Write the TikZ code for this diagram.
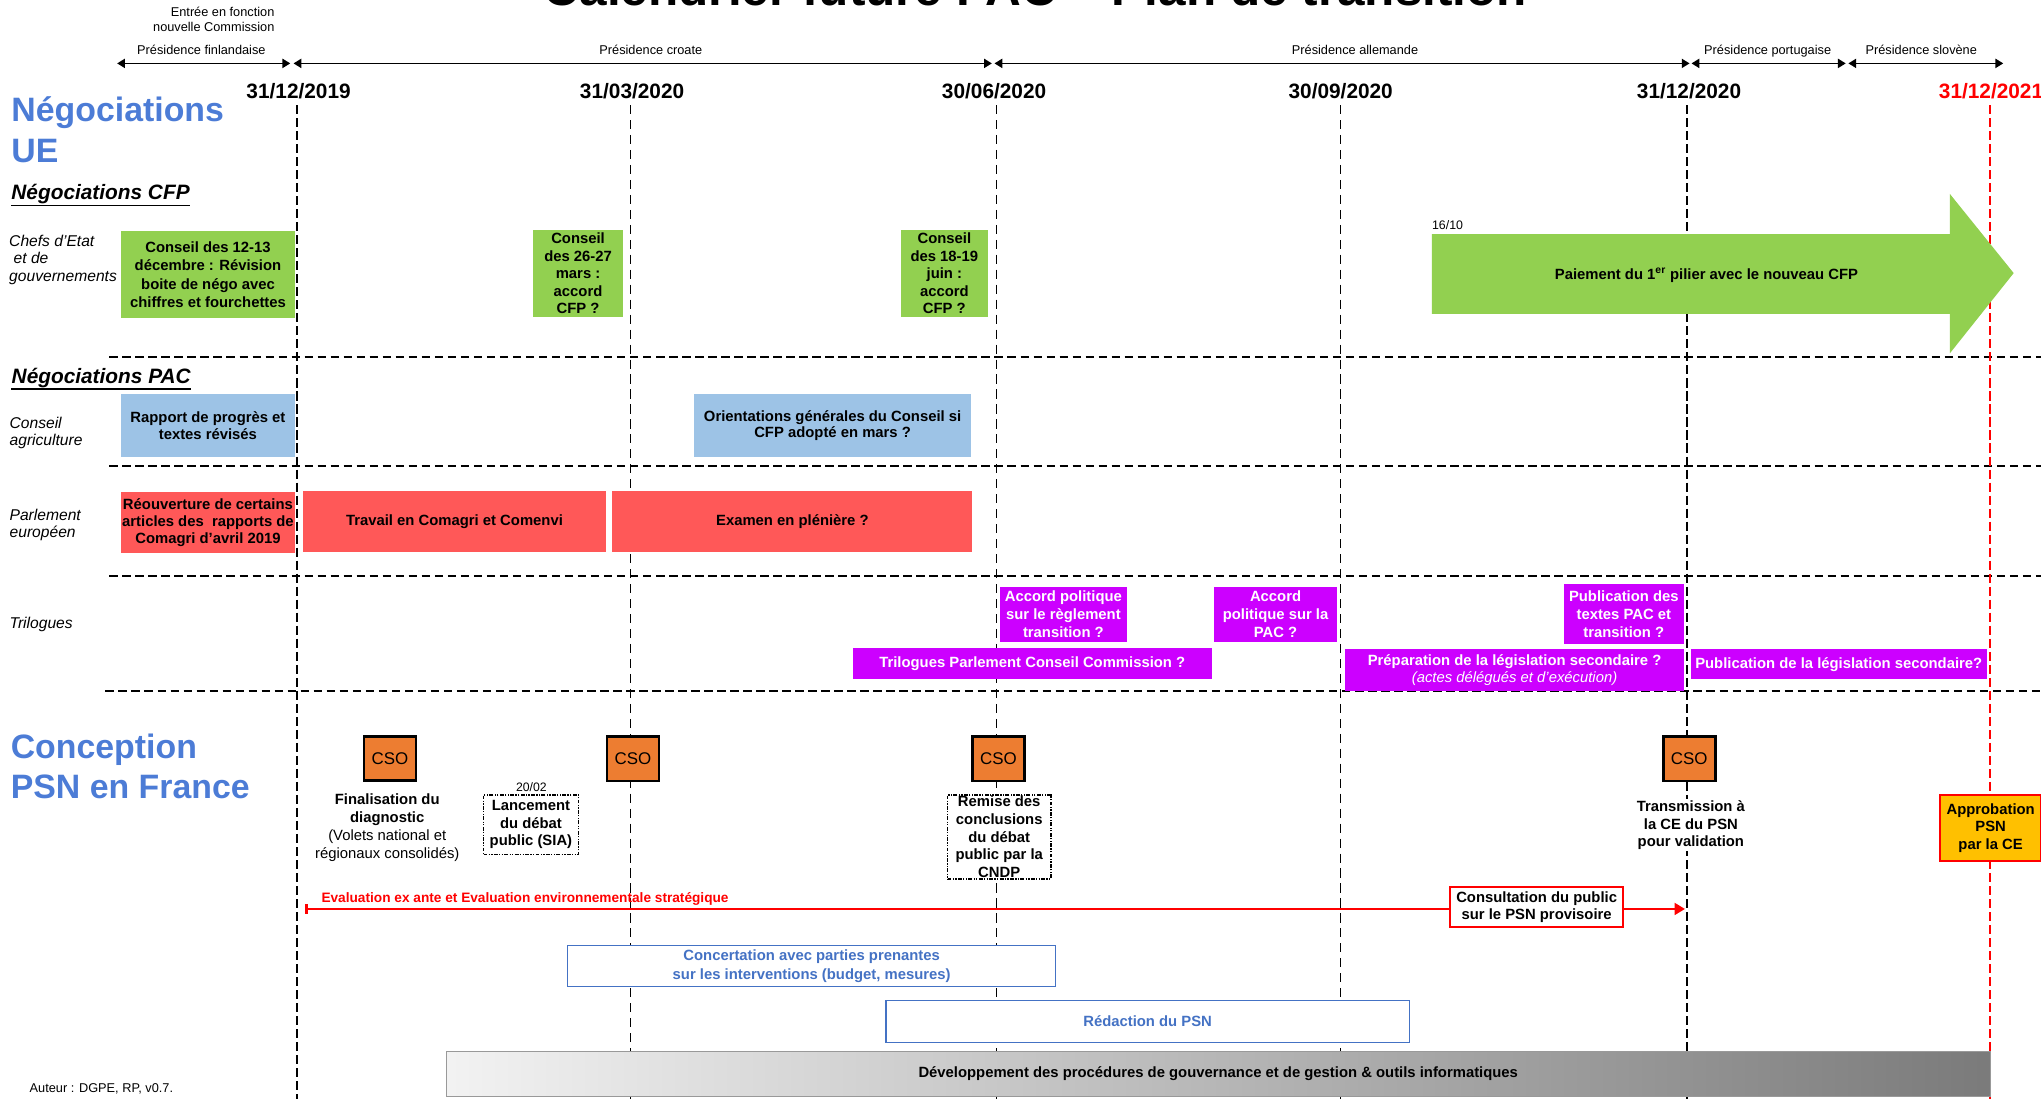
\documentclass[tikz,border=0pt]{standalone}
\usepackage{fontspec}
\setmainfont{Liberation Sans}
\usepackage{xcolor}
\usepackage{tikz}
\usetikzlibrary{arrows.meta}

\definecolor{bleutitre}{RGB}{76,124,214}
\definecolor{bleuligne}{RGB}{68,114,196}
\definecolor{vertcfp}{RGB}{146,208,80}
\definecolor{bleupac}{RGB}{157,195,230}
\definecolor{rougepe}{RGB}{255,88,88}
\definecolor{magtri}{RGB}{204,0,255}
\definecolor{orangecso}{RGB}{237,125,49}
\definecolor{jauneapp}{RGB}{255,192,0}

\newcommand{\taille}[2]{\fontsize{#1}{#2}\selectfont}

\begin{document}
\begin{tikzpicture}[x=1pt,y=-1pt,
		txt/.style={inner sep=0pt, anchor=base},
		presid/.style={line width=1.3pt, {Triangle[length=6pt,width=7pt]}-{Triangle[length=6pt,width=7pt]}},
		pres/.style={txt, font=\taille{9.8}{12}},
		date/.style={txt, font=\bfseries\taille{16}{19}},
		datefort/.style={line width=1.6pt, dash pattern=on 7pt off 3pt},
		datefin/.style={line width=0.8pt, dash pattern=on 7pt off 4.5pt},
		sep/.style={line width=1.6pt, dash pattern=on 6.5pt off 3.5pt},
		titrebleu/.style={txt, anchor=base west, text=bleutitre, font=\bfseries\taille{26}{31}},
		rubrique/.style={txt, anchor=base west, font=\bfseries\itshape\taille{16}{19}},
		etiq/.style={txt, anchor=base west, font=\itshape\taille{12}{14}},
		boite/.style={inner sep=0pt, align=center, font=\bfseries\taille{11.4}{14}},
		vert/.style={boite, fill=vertcfp},
		bleu/.style={boite, fill=bleupac, font=\bfseries\taille{11.4}{12.8}},
		rouge/.style={boite, fill=rougepe, font=\bfseries\taille{11.4}{13.2}},
		magenta/.style={boite, fill=magtri, text=white},
		cso/.style={draw, line width=2pt, fill=orangecso, minimum width=40pt, minimum height=34pt, inner sep=0pt, font=\taille{13}{15}},
		debat/.style={boite, draw, fill=white, line width=1.3pt, dash pattern=on 3pt off 1pt on 1pt off 1pt on 1pt off 1pt, font=\bfseries\taille{11.4}{13.4}},
		cadrebleu/.style={boite, draw=bleuligne, line width=1pt, fill=white, text=bleuligne},
	]
	\useasboundingbox (0,0) rectangle (1568,844);
	\clip (0,0) rectangle (1568,844);

	% lignes de separation
	\foreach \y/\xd in {274.5/84, 358/84, 442.2/84, 530.8/81}
		\draw[sep] (\xd,\y) -- (1568,\y);

	% lignes des dates
	\draw[datefort] (228,80.7) -- (228,844);
	\draw[datefin] (484.5,80.7) -- (484.5,844);
	\draw[datefin] (765.5,80.7) -- (765.5,844);
	\draw[datefin] (1030,80.7) -- (1030,844);
	\draw[datefort] (1296.3,80.7) -- (1296.3,844);
	\draw[datefort, red, line width=1.3pt] (1528.6,80.7) -- (1528.6,844);

	\node[txt, font=\bfseries\taille{38}{44}] (titre) at (795.5,4) {Calendrier future PAC – Plan de transition};

	% presidences
	\node[pres, anchor=base east] (entree1) at (211,12.3) {Entrée en fonction};
	\node[pres, anchor=base east] (entree2) at (211,24.3) {nouvelle Commission};
	\coordinate (fin0) at (90,48.7);
	\coordinate (fin1) at (223,48.7);
	\coordinate (cro0) at (225.5,48.7);
	\coordinate (cro1) at (762,48.7);
	\coordinate (all0) at (764,48.7);
	\coordinate (all1) at (1298,48.7);
	\coordinate (por0) at (1299.5,48.7);
	\coordinate (por1) at (1418,48.7);
	\coordinate (slo0) at (1420,48.7);
	\coordinate (slo1) at (1539,48.7);
	\draw[presid] (fin0) -- (fin1);
	\draw[presid] (cro0) -- (cro1);
	\draw[presid] (all0) -- (all1);
	\draw[presid] (por0) -- (por1);
	\draw[presid] (slo0) -- (slo1);
	\node[pres] (pfin) at (154.7,41.5) {Présidence finlandaise};
	\node[pres] (pcro) at (500,41.5) {Présidence croate};
	\node[pres] (pall) at (1041,41.5) {Présidence allemande};
	\node[pres] (ppor) at (1358,41.5) {Présidence portugaise};
	\node[pres] (pslo) at (1476,41.5) {Présidence slovène};

	% dates
	\node[date] (d2019) at (229.4,75.5) {31/12/2019};
	\node[date] (d2003) at (485.6,75.5) {31/03/2020};
	\node[date] (d2006) at (763.7,75.5) {30/06/2020};
	\node[date] (d2009) at (1030,75.5) {30/09/2020};
	\node[date] (d2012) at (1297.6,75.5) {31/12/2020};
	\node[date, text=red] (d2021) at (1529.6,75.5) {31/12/2021};

	% negociations UE
	\node[titrebleu] (negue1) at (8.6,93.5) {Négociations};
	\node[titrebleu] (negue2) at (8.6,124.7) {UE};
	\node[rubrique] (negcfp) at (8.6,153.6) {Négociations CFP};
	\draw[line width=1.1pt] ([yshift=-4.4pt]negcfp.base west) -- ([yshift=-4.4pt]negcfp.base east);
	\node[etiq] (chefs1) at (6.9,189.5) {Chefs d'Etat};
	\node[etiq] (chefs2) at (10.3,202.3) {et de};
	\node[etiq] (chefs3) at (6.9,216.4) {gouvernements};

	\node[vert, minimum width=133pt, minimum height=66.6pt] (cfpdec) at (159.8,211) {Conseil des 12-13\\décembre : Révision\\boite de négo avec\\chiffres et fourchettes};
	\node[vert, minimum width=68.6pt, minimum height=66.6pt, font=\bfseries\taille{11.4}{13.4}] (cfpmar) at (444.1,210) {Conseil\\des 26-27\\mars :\\accord\\CFP ?};
	\node[vert, minimum width=67pt, minimum height=66.6pt, font=\bfseries\taille{11.4}{13.4}] (cfpjun) at (725.5,210) {Conseil\\des 18-19\\juin :\\accord\\CFP ?};

	\node[txt, anchor=base west, font=\taille{9.5}{11}] (d1610) at (1100,176) {16/10};
	\fill[vertcfp] (1100,179.8) -- (1498,179.8) -- (1498,149) -- (1547,209.8) -- (1498,271.4) -- (1498,241.2) -- (1100,241.2) -- cycle;
	\node[txt, font=\bfseries\taille{11.4}{13}] (paiement) at (1311,214.4) {Paiement du 1\textsuperscript{er} pilier avec le nouveau CFP};

	% negociations PAC
	\node[rubrique] (negpac) at (8.8,294.5) {Négociations PAC};
	\draw[line width=1.1pt] ([yshift=-4.4pt]negpac.base west) -- ([yshift=-4.4pt]negpac.base east);
	\node[etiq] (cagri1) at (7.2,329) {Conseil};
	\node[etiq] (cagri2) at (7.2,342) {agriculture};
	\node[bleu, minimum width=133.3pt, minimum height=47.9pt] (pacrap) at (159.75,326.85) {Rapport de progrès et\\textes révisés};
	\node[bleu, minimum width=212.7pt, minimum height=47.9pt] (pacori) at (639.65,326.85) {Orientations générales du Conseil si\\CFP adopté en mars ?};

	\node[etiq] (parl1) at (7.2,399.5) {Parlement};
	\node[etiq] (parl2) at (7.2,412.8) {européen};
	\node[rouge, minimum width=133.3pt, minimum height=46.6pt] (peouv) at (159.75,401.5) {Réouverture de certains\\articles des\ \ rapports de\\Comagri d'avril 2019};
	\node[rouge, minimum width=232.7pt, minimum height=46.6pt] (petrav) at (349.15,400.5) {Travail en Comagri et Comenvi};
	\node[rouge, minimum width=276.5pt, minimum height=46.6pt] (peexam) at (608.75,400.5) {Examen en plénière ?};

	\node[etiq] (trilo) at (7.2,482.7) {Trilogues};
	\node[magenta, minimum width=97.3pt, minimum height=42.7pt] (triregl) at (816.95,472.05) {Accord politique\\sur le règlement\\transition ?};
	\node[magenta, minimum width=94.1pt, minimum height=42.7pt] (tripac) at (979.95,472.05) {Accord\\politique sur la\\PAC ?};
	\node[magenta, minimum width=92.4pt, minimum height=46.4pt] (tripub) at (1247.5,471.8) {Publication des\\textes PAC et\\transition ?};
	\node[magenta, minimum width=275.5pt, minimum height=23.9pt] (tripcc) at (793.05,509.95) {Trilogues Parlement Conseil Commission ?};
	\node[magenta, minimum width=260.3pt, minimum height=32.2pt, font=\bfseries\taille{11.4}{13.6}] (triprep) at (1163.55,514.7) {Préparation de la législation secondaire ?\\{\mdseries\itshape (actes délégués et d'exécution)}};
	\node[magenta, minimum width=227.2pt, minimum height=23.3pt] (trileg) at (1412.6,510.25) {Publication de la législation secondaire?};

	% conception PSN
	\node[titrebleu] (psn1) at (8.1,582.6) {Conception};
	\node[titrebleu] (psn2) at (8.1,613.3) {PSN en France};

	\node[cso] (cso1) at (299.6,582.7) {CSO};
	\node[cso] (cso2) at (486.3,583) {CSO};
	\node[cso] (cso3) at (767,583) {CSO};
	\node[cso] (cso4) at (1297.8,583) {CSO};

	\node[boite, font=\taille{11.4}{13.7}] (diag) at (297.5,636) {\textbf{Finalisation du}\\\textbf{diagnostic}\\(Volets national et\\régionaux consolidés)};
	\node[txt, font=\taille{9.4}{11}] (d2002) at (408.2,608.2) {20/02};
	\node[debat, minimum width=72.9pt, minimum height=45.7pt] (lancement) at (407.9,633.5) {Lancement\\du débat\\public (SIA)};
	\node[debat, minimum width=79.4pt, minimum height=64.7pt, font=\bfseries\taille{11.4}{13.6}] (remise) at (767.65,643) {Remise des\\conclusions\\du débat\\public par la\\CNDP};
	\node[boite, fill=white, inner sep=1pt, font=\bfseries\taille{11.4}{13.5}] (transm) at (1299,634) {Transmission à\\la CE du PSN\\pour validation};
	\node[boite, draw=red, line width=1.6pt, fill=jauneapp, minimum width=77.6pt, minimum height=50.4pt, font=\bfseries\taille{11.4}{13.7}] (approb) at (1529.3,636.2) {Approbation\\PSN\\par la CE};

	\coordinate (evaldeb) at (234.4,698.3);
	\coordinate (evalfin) at (1294.5,698.3);
	\draw[red, line width=2pt, {Bar[width=7pt]}-{Triangle[length=8pt,width=9pt]}] (evaldeb) -- (evalfin);
	\node[txt, anchor=base west, text=red, font=\bfseries\taille{10.5}{12}] (evallab) at (246.8,693) {Evaluation ex ante et Evaluation environnementale stratégique};
	\node[boite, draw=red, line width=1.6pt, fill=white, minimum width=132.4pt, minimum height=31.2pt, font=\bfseries\taille{11.4}{12.8}] (consult) at (1180.5,696.8) {Consultation du public\\sur le PSN provisoire};

	\node[cadrebleu, minimum width=375.1pt, minimum height=31.5pt] (concert) at (623.55,742.25) {Concertation avec parties prenantes\\sur les interventions (budget, mesures)};
	\node[cadrebleu, minimum width=402.1pt, minimum height=32.3pt] (redac) at (881.65,784.85) {Rédaction du PSN};
	\node[boite, draw=black!40, line width=0.6pt, left color=black!5, right color=black!52, minimum width=1186.2pt, minimum height=34pt] (devproc) at (935.9,825) {Développement des procédures de gouvernance et de gestion \& outils informatiques};

	\node[txt, anchor=base west, font=\taille{9.8}{11}] (auteur) at (22.6,839.4) {Auteur : DGPE, RP, v0.7.};
\end{tikzpicture}
\end{document}
